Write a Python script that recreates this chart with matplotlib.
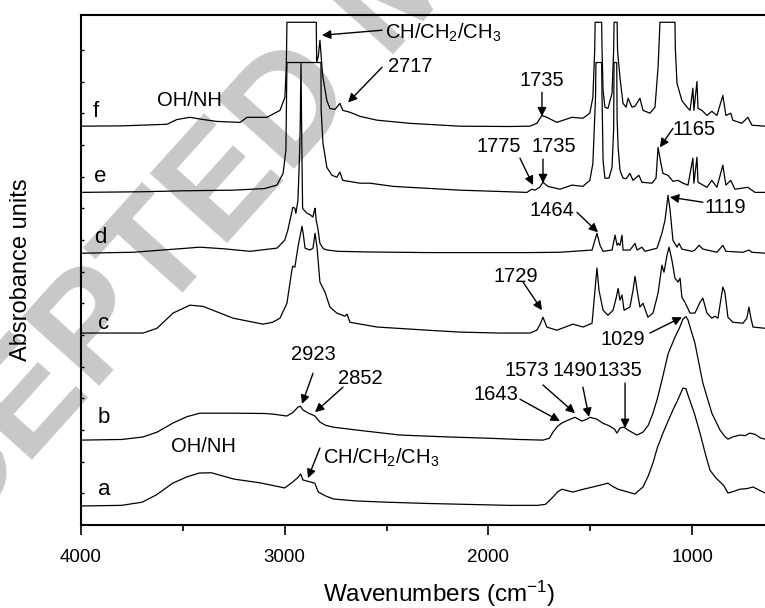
import matplotlib
matplotlib.use("Agg")
import matplotlib.pyplot as plt

plt.rcParams['font.family'] = ['Liberation Sans', 'DejaVu Sans']
plt.rcParams['mathtext.fontset'] = 'custom'
plt.rcParams['mathtext.rm'] = 'Liberation Sans'
plt.rcParams['mathtext.it'] = 'Liberation Sans:italic'

# ---------------- data (wavenumber, offset absorbance) ----------------
a_wn = [4000,3800,3700,3630,3550,3480,3420,3360,3250,3120,3000,2960,2935,2922,2910,2875,2852,2835,2800,2760,2650,2500,2300,2100,1900,1760,1720,1683,1660,1639,1610,1585,1540,1487,1450,1413,1390,1364,1320,1281,1241,1215,1192,1170,1143,1120,1094,1070,1045,1030,1020,990,961,935,912,885,863,845,824,800,765,730,701,670,642]
a_y = [0.60,0.62,0.72,0.95,1.32,1.52,1.64,1.65,1.45,1.33,1.17,1.36,1.50,1.61,1.42,1.36,1.32,1.04,0.92,0.82,0.76,0.72,0.68,0.65,0.62,0.62,0.65,0.88,1.05,1.13,1.08,1.04,1.12,1.20,1.26,1.32,1.22,1.13,1.05,0.98,1.20,1.55,1.96,2.45,2.90,3.25,3.63,3.95,4.32,4.30,4.10,3.55,2.90,2.25,1.73,1.50,1.36,1.25,1.01,1.05,1.13,1.15,1.20,1.10,1.01]

b_wn = [4000,3800,3695,3627,3548,3480,3416,3254,3100,3057,2990,2960,2935,2923,2910,2880,2861,2852,2827,2800,2763,2650,2434,2200,2000,1850,1732,1700,1683,1660,1639,1609,1590,1575,1541,1520,1500,1490,1467,1440,1403,1380,1369,1354,1335,1310,1271,1241,1215,1192,1170,1148,1117,1084,1060,1045,1030,1020,986,947,903,863,840,824,800,765,740,716,690,665,642]
b_y = [2.68,2.70,2.78,2.93,3.22,3.42,3.53,3.53,3.52,3.50,3.44,3.55,3.72,3.75,3.63,3.52,3.47,3.44,3.25,3.15,3.09,3.00,2.84,2.78,2.74,2.70,2.68,2.74,2.93,3.12,3.22,3.31,3.36,3.40,3.28,3.33,3.40,3.38,3.34,3.22,3.12,3.02,2.90,3.06,3.09,2.98,2.84,2.93,3.15,3.53,4.00,4.57,5.42,5.93,6.25,6.50,6.58,6.47,5.74,4.48,3.53,3.00,2.80,2.71,2.78,2.84,2.82,2.90,2.86,2.75,2.71]

c_wn = [4000,3800,3695,3627,3548,3465,3400,3254,3106,3060,3023,2989,2975,2965,2960,2950,2935,2915,2910,2900,2876,2861,2851,2841,2827,2802,2778,2744,2704,2694,2680,2547,2300,2140,1950,1796,1762,1745,1732,1713,1690,1664,1585,1535,1491,1481,1467,1457,1437,1413,1388,1373,1363,1354,1344,1334,1305,1290,1280,1270,1256,1241,1217,1192,1167,1148,1138,1123,1113,1099,1084,1069,1059,1050,1035,1010,986,961,947,927,903,888,873,849,839,824,800,750,731,721,711,701,642]
c_y = [6.06,6.06,6.06,6.21,6.69,6.94,6.90,6.53,6.34,6.40,6.53,7.00,7.60,8.04,8.17,8.14,8.77,9.43,9.24,8.74,8.68,8.74,9.21,8.74,7.67,7.35,6.88,6.69,6.59,6.66,6.40,6.25,6.15,6.09,6.06,6.06,6.15,6.35,6.56,6.25,6.20,6.15,6.34,6.25,6.37,7.10,8.11,7.41,6.78,6.62,6.78,7.16,7.47,7.10,7.26,6.78,6.88,7.41,7.85,7.41,6.88,7.00,6.56,6.69,7.32,8.20,7.98,8.52,8.77,8.36,7.79,7.67,7.79,7.19,7.03,6.69,6.69,7.03,7.16,6.69,6.53,6.59,6.53,7.51,7.35,6.56,6.40,6.37,6.53,6.88,6.53,6.25,6.21]

d_wn = [4000,3744,3600,3416,3300,3170,3038,3000,2985,2974,2960,2950,2945,2935,2928,2924,2920,2916,2912,2905,2890,2876,2862,2855,2851,2845,2838,2827,2810,2790,2740,2600,2300,2000,1800,1649,1491,1477,1467,1452,1437,1393,1378,1368,1363,1354,1344,1339,1305,1280,1270,1246,1231,1172,1148,1133,1118,1108,1094,1074,1064,1050,1000,986,966,947,878,849,834,750,721,706,642]
d_y = [8.58,8.61,8.68,8.77,8.72,8.64,8.74,8.99,9.30,9.62,10.03,10.00,9.84,10.25,11.50,12.50,14.60,12.00,10.00,9.94,9.84,9.80,9.72,9.90,10.00,9.60,9.40,8.89,8.72,8.68,8.64,8.62,8.60,8.60,8.60,8.61,8.68,8.99,9.21,8.83,8.64,8.68,9.15,8.83,8.89,8.83,9.15,8.68,8.68,8.89,8.68,8.77,8.64,8.74,9.21,9.62,10.41,9.94,8.99,8.77,8.89,8.71,8.64,8.68,8.83,8.71,8.61,8.83,8.64,8.61,8.68,8.61,8.58]

e_wn = [4000,3700,3500,3254,3100,3038,3008,2994,2991,2989,2822,2821,2812,2793,2768,2744,2729,2715,2630,2581,2468,2140,1900,1811,1787,1772,1748,1732,1708,1649,1590,1536,1502,1487,1474,1472,1444,1442,1437,1428,1408,1393,1385,1383,1370,1368,1363,1354,1339,1324,1305,1290,1261,1246,1197,1177,1167,1153,1143,1118,1094,1069,1045,1020,996,991,976,971,927,903,878,849,834,810,790,726,691,642]
e_y = [10.50,10.52,10.55,10.57,10.62,10.73,11.10,11.83,13.50,14.60,14.60,13.09,12.05,11.29,11.04,10.98,11.14,10.88,10.79,10.79,10.69,10.57,10.52,10.50,10.60,10.57,10.66,10.82,10.69,10.60,10.73,10.69,10.88,11.42,13.50,14.60,14.60,13.50,11.51,10.95,10.95,11.29,12.50,14.60,14.60,12.80,11.92,11.20,10.95,10.93,11.10,10.88,11.04,10.82,10.79,10.95,11.92,11.42,11.10,11.04,10.85,10.88,10.79,10.73,11.58,10.79,11.61,10.82,10.66,10.88,10.66,11.36,10.73,10.88,10.60,10.66,10.50,10.50]

f_wn = [4000,3800,3578,3529,3465,3400,3333,3219,3185,3087,3023,2999,2992,2989,2900,2845,2843,2835,2827,2815,2812,2793,2778,2753,2729,2715,2680,2630,2547,2385,2140,1900,1796,1762,1737,1713,1664,1590,1536,1502,1487,1478,1476,1444,1442,1437,1428,1413,1393,1385,1383,1368,1366,1363,1354,1339,1324,1314,1295,1280,1256,1241,1207,1182,1167,1160,1158,1084,1082,1074,1050,1025,1010,996,991,976,971,952,927,903,878,849,834,810,800,756,726,706,642]
f_y = [12.59,12.60,12.65,12.80,12.87,12.80,12.74,12.71,12.87,12.87,13.09,13.50,14.50,15.87,15.87,15.87,14.60,14.80,15.30,14.30,14.13,13.40,13.15,13.12,13.31,13.09,13.03,12.90,12.78,12.68,12.59,12.58,12.59,12.68,12.93,12.87,12.71,12.87,12.84,13.00,13.50,15.00,15.87,15.87,15.00,13.72,13.19,13.15,13.63,15.00,15.87,15.87,15.00,14.76,14.13,13.31,13.19,13.47,13.19,13.22,13.47,13.09,13.00,13.19,14.45,15.50,15.87,15.87,15.00,13.94,13.40,13.19,13.09,13.79,13.09,14.00,13.15,13.09,12.93,13.06,12.93,13.56,12.93,13.00,12.78,12.68,12.87,12.62,12.59]

spectra = [(a_wn, a_y), (b_wn, b_y), (c_wn, c_y), (d_wn, d_y), (e_wn, e_y), (f_wn, f_y)]

curve_names = ['a', 'b', 'c', 'd', 'e', 'f']
name_wn = [3887, 3887, 3887, 3907, 3907, 3926]
name_y = [1.11, 3.39, 6.37, 9.07, 11.0, 13.06]

# annotations: text, text (wn, y) left/center, arrow tail, arrow head
notes = [
    ("CH/CH$_2$/CH$_3$", 2508, 15.55, (2522, 15.62), (2817, 15.46)),
    ("2717", 2493, 14.48, (2522, 14.45), (2689, 13.34)),
    ("1735", 1845, 14.04, (1737, 13.66), (1737, 12.90)),
    ("1775", 2056, 11.96, (1845, 11.58), (1781, 10.73)),
    ("1735", 1786, 11.96, (1732, 11.55), (1732, 10.79)),
    ("1165", 1094, 12.49, (1094, 12.52), (1158, 11.92)),
    ("1119", 937, 10.03, (947, 10.19), (1109, 10.35)),
    ("1464", 1796, 9.94, (1565, 9.87), (1462, 9.24)),
    ("1729", 1977, 7.85, (1830, 7.67), (1737, 6.78)),
    ("1029", 1452, 5.87, (1207, 6.06), (1050, 6.56)),
    ("1573", 1919, 4.89, (1732, 4.42), (1575, 3.53)),
    ("1490", 1683, 4.89, (1536, 4.35), (1506, 3.41)),
    ("1335", 1462, 4.89, (1329, 4.48), (1329, 3.06)),
    ("1643", 2071, 4.13, (1845, 3.97), (1649, 3.28)),
    ("2923", 2969, 5.39, (2861, 4.79), (2915, 3.82)),
    ("2852", 2738, 4.64, (2714, 4.35), (2851, 3.56)),
    ("CH/CH$_2$/CH$_3$", 2812, 2.11, (2827, 2.43), (2886, 1.48)),
]
plain_notes = [("OH/NH", 3627, 13.41), ("OH/NH", 3558, 2.49)]

x_ticks = [4000, 3000, 2000, 1000]
x_minor = [3500, 2500, 1500]

# ---------------- figure ----------------
fig = plt.figure(figsize=(7.65, 6.08), dpi=100)
ax = fig.add_axes([81/765, 83/608, 684/765, 510/608])
ax.patch.set_alpha(0)

# watermark
wm_kw = dict(transform=fig.transFigure, rotation=48, rotation_mode='anchor',
             fontsize=108, fontweight='bold', color='#c8c8c8', va='center',
             zorder=0.5, clip_on=False)
ax.text(330/765, 1-66/608, "ACCEPTED", ha='right', **wm_kw)
ax.text(330/765, 1-66/608, " MANUSCRIPT", ha='left', **wm_kw)

for wn, y in spectra:
    ax.plot(wn, y, color='black', lw=0.9, zorder=2)

for nm, xw, yv in zip(curve_names, name_wn, name_y):
    ax.text(xw, yv, nm, fontsize=16, ha='center', va='center', zorder=3)

for txt, tx, ty, tail, head in notes:
    ax.text(tx, ty, txt, fontsize=14.5, ha='left', va='center', zorder=3)
    ax.annotate('', xy=head, xytext=tail,
                arrowprops=dict(arrowstyle='-|>', color='black', lw=1.0,
                                mutation_scale=13, shrinkA=0, shrinkB=0),
                zorder=3)
for txt, tx, ty in plain_notes:
    ax.text(tx, ty, txt, fontsize=14.5, ha='left', va='center', zorder=3)

ax.set_xlim(4000, 642)
ax.set_ylim(0, 16.1)
ax.set_xticks(x_ticks)
ax.set_xticks(x_minor, minor=True)
ax.set_yticks(range(1, 16))
ax.set_yticklabels([])
ax.tick_params(axis='x', which='major', direction='out', length=7, width=1.2,
               labelsize=13.5, pad=10)
ax.tick_params(axis='x', which='minor', direction='out', length=4, width=1.2)
ax.tick_params(axis='y', which='both', direction='in', length=2.5, width=1.0)
ax.spines['right'].set_visible(False)
for s in ['left', 'bottom', 'top']:
    ax.spines[s].set_linewidth(1.5)

ax.set_xlabel("Wavenumbers (cm$^{-1}$)", fontsize=17.5)
ax.xaxis.set_label_coords(0.523, -0.106)
ax.set_ylabel("Absrobance units", fontsize=17)
ax.yaxis.set_label_coords(-0.072, 0.5)

fig.savefig("out.png", dpi=100)
